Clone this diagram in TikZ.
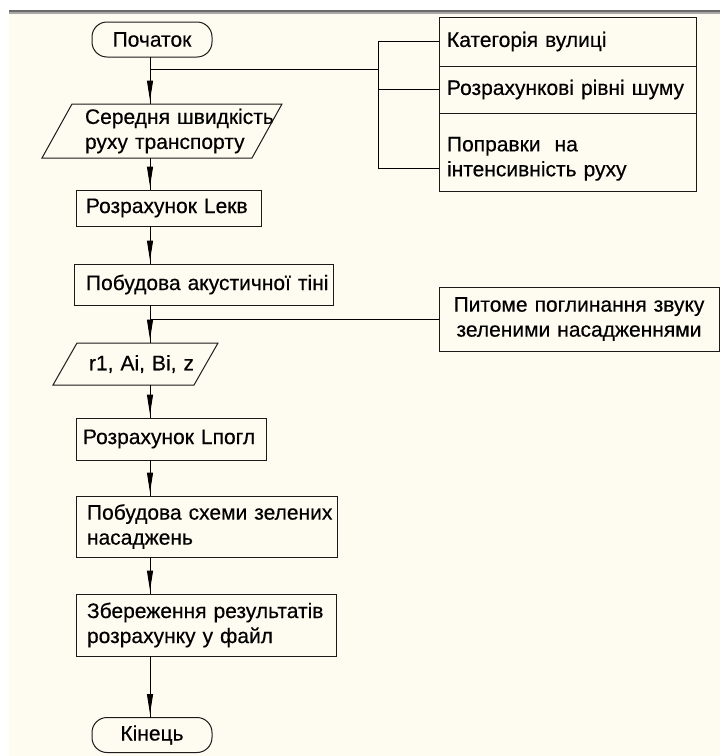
\documentclass[tikz,border=0pt]{standalone}
\usepackage{fontspec}
\setmainfont{Liberation Sans}[FakeBold=0.4]
\usetikzlibrary{arrows.meta,calc}
\definecolor{cream}{HTML}{FEFBF0}
\definecolor{topgrayA}{HTML}{6A6A6A}
\definecolor{topgrayB}{HTML}{A8A8A8}
\definecolor{ink}{HTML}{1A1A1A}
\tikzset{
  base/.style={font=\fontsize{21}{25}\selectfont, text=black, outer sep=0pt, inner ysep=0pt},
  procbox/.style={base, draw=ink, line width=1pt, align=left, anchor=north west},
  iobox/.style={base, align=left, anchor=north west},
  term/.style={base, draw=ink, line width=1pt, rounded corners=15pt, minimum width=120pt, minimum height=35pt, align=center},
  outline/.style={draw=ink, line width=1pt},
  flow/.style={draw=black, line width=1pt},
  flowarrow/.style={draw=black, line width=1pt, -{Triangle[length=20pt,width=6pt]}, shorten >=3.5pt},
}
\begin{document}
\begin{tikzpicture}[x=1pt,y=-1pt]
\useasboundingbox (0,0) rectangle (720,756);
\fill[white] (0,0) rectangle (720,756);
\fill[cream] (9,13) rectangle (720,756);
\fill[topgrayA] (9,10) rectangle (720,12);
\fill[topgrayB] (9,12) rectangle (720,13.5);

\coordinate (spine) at (150,0);

% main column
\node[term] (start) at (152,39.5) {Початок};
\node[iobox, minimum width=210pt, minimum height=54pt, text width=154pt, inner xsep=28pt] (in1) at (57,104)
  {Середня~швидкість\\руху~транспорту};
\draw[outline] ([xshift=15pt]in1.north west) -- ([xshift=15pt]in1.north east)
  -- ([xshift=-15pt]in1.south east) -- ([xshift=-15pt]in1.south west) -- cycle;
\node[procbox, minimum width=185pt, minimum height=36pt, text width=165pt, inner xsep=10pt] (c1) at (76,190)
  {Розрахунок~Lекв};
\node[procbox, minimum width=259pt, minimum height=41pt, text width=235pt, inner xsep=12pt] (c2) at (74,264)
  {Побудова~акустичної~тіні};
\node[iobox, minimum width=141pt, minimum height=42pt, text width=93pt, inner xsep=24pt] (in2) at (65,343)
  {r1,~Ai,~Bi,~z};
\draw[outline] ([xshift=12pt]in2.north west) -- ([xshift=12pt]in2.north east)
  -- ([xshift=-12pt]in2.south east) -- ([xshift=-12pt]in2.south west) -- cycle;
\node[procbox, minimum width=190pt, minimum height=42pt, text width=176pt, inner xsep=7pt] (c3) at (76,418)
  {Розрахунок~Lпогл};
\node[procbox, minimum width=261pt, minimum height=61pt, text width=239pt, inner xsep=11pt] (c4) at (76,496)
  {Побудова~схеми~зелених\\насаджень};
\node[procbox, minimum width=260pt, minimum height=62pt, text width=238pt, inner xsep=11pt] (c5) at (76,594)
  {Збереження~результатів\\розрахунку~у~файл};
\node[term] (end) at (152,735) {Кінець};

% right column
\node[procbox, minimum width=257pt, minimum height=49pt, text width=241pt, inner xsep=8pt] (r1) at (439,17)
  {Категорія~вулиці};
\node[procbox, minimum width=257pt, minimum height=47pt, text width=241pt, inner xsep=8pt] (r2) at (439,66)
  {Розрахункові~рівні~шуму};
\node[procbox, minimum width=257pt, minimum height=78pt, text width=241pt, inner xsep=8pt] (r3) at (439,113)
  {\rule{0pt}{28pt}Поправки~~на\\інтенсивність~руху};
\node[procbox, align=center, minimum width=280pt, minimum height=64pt, text width=270pt, inner xsep=5pt] (pit) at (439,287)
  {Питоме~поглинання~звуку\\зеленими~насадженнями};

% main flow connectors
\foreach \a/\b in {start/in1, in1/c1, c1/c2, c2/in2, in2/c3, c3/c4, c4/c5, c5/end} {
  \draw[flow] (\a.south -| spine) -- (\b.north -| spine);
  \draw[flowarrow] (\a.south -| spine) -- (\b.north -| spine);
}

% branch to the data boxes
\coordinate (j1) at (150,69);
\coordinate (bus) at (378,69);
\coordinate (r3in) at (439,168);
\draw[flow] (j1) -- (bus);
\draw[flow] (r1.west) -| (r3in -| bus) -- (r3in);
\draw[flow] (r2.west) -- (r2.west -| bus);

% branch to the absorption box
\draw[flow] (pit.west) -- (pit.west -| spine);
\end{tikzpicture}
\end{document}
